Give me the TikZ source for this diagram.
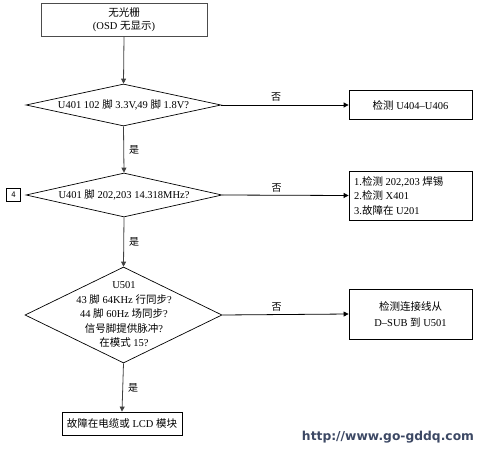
\documentclass[tikz,border=0pt]{standalone}
\usepackage{fontspec}
\setmainfont{Liberation Serif}
\newfontfamily\cjk{Noto Sans CJK SC}
\newfontfamily\wmfont{DejaVu Sans}
\usetikzlibrary{shapes.geometric,arrows.meta}
\newcommand{\zh}[1]{{\cjk #1}}
\definecolor{wmcol}{RGB}{60,72,100}
\begin{document}
\begin{tikzpicture}[x=1pt,y=-1pt,
  every node/.style={font=\fontsize{10.5}{13.5}\selectfont, inner sep=0pt},
  procbox/.style={draw=black, line width=0.8pt, minimum width=#1, align=center},
  decbox/.style={diamond, draw=black, line width=0.7pt, inner sep=0pt},
  arr/.style={draw=black!75, line width=0.8pt, -{Triangle[length=5pt,width=5pt]}},
  harr/.style={draw=black, line width=0.8pt, -{Triangle[length=5pt,width=5pt]}},
  lbl/.style={font=\fontsize{10}{11}\selectfont}]
\useasboundingbox (0,0) rectangle (482,452);
% top box
\node[procbox=166pt, draw=black!70, minimum height=33pt] (t) at (124,19.5) {\zh{无光栅}\\(OSD \zh{无显示})};
% diamond 1
\node[decbox, minimum width=195pt, minimum height=42pt] (d1) at (123.5,105) {};
\node (d1t) at (d1.center) {U401 102 \zh{脚} 3.3V,49 \zh{脚} 1.8V?};
\node[procbox=123pt, minimum height=29pt] (r1) at (410.5,105) {\zh{检测} U404--U406};
% diamond 2
\node[decbox, minimum width=196pt, minimum height=44pt] (d2) at (124,195) {};
\node (d2t) at (d2.center) {U401 \zh{脚} 202,203 14.318MHz?};
\node[draw=black, line width=0.6pt, minimum width=14pt, minimum height=13pt, font=\fontsize{8.5}{9}\sffamily] (four) at (13.5,195) {4};
\node[procbox=123pt, minimum height=49pt] (r2) at (410.5,195.5) {};
\node[anchor=west, align=left, font=\fontsize{10.5}{14.5}\selectfont] (r2t) at (354,195.5) {1.\zh{检测} 202,203 \zh{焊锡}\\2.\zh{检测} X401\\3.\zh{故障在} U201};
% diamond 3
\node[decbox, minimum width=197pt, minimum height=96pt] (d3) at (123.5,315) {};
\node[align=center, font=\fontsize{10.5}{14.5}\selectfont] (d3t) at (124,314.5) {U501\\43 \zh{脚} 64KHz \zh{行同步}?\\44 \zh{脚} 60Hz \zh{场同步}?\\\zh{信号脚提供脉冲}?\\\zh{在模式} 15?};
\node[procbox=123pt, minimum height=50pt, font=\fontsize{10.5}{16}\selectfont] (r3) at (410.5,314) {\zh{检测连接线从}\\D--SUB \zh{到} U501};
% bottom box
\node[procbox=120pt, minimum height=23pt] (bt) at (122,423.5) {\zh{故障在电缆或} LCD \zh{模块}};
% connectors
\draw[arr] (t.south) -- (d1.north);
\draw[arr] (d1.south) -- node[lbl, right=5pt, pos=0.5] (y1) {\zh{是}} (d2.north);
\draw[arr] (d2.south) -- node[lbl, right=5pt, pos=0.5] (y2) {\zh{是}} (d3.north);
\draw[arr] (d3.south) -- node[lbl, right=5pt, pos=0.5] (y3) {\zh{是}} (bt.north);
\draw[harr] (d1.east) -- node[lbl, above=3pt, pos=0.43] (n1) {\zh{否}} (r1.west);
\draw[harr] (d2.east) -- node[lbl, above=3pt, pos=0.43] (n2) {\zh{否}} (r2.west);
\draw[harr] (d3.east) -- node[lbl, above=3pt, pos=0.43] (n3) {\zh{否}} (r3.west);
% watermark
\node[font=\wmfont\bfseries\fontsize{12.3}{14}\selectfont, text=wmcol] (wm) at (388,437) {http://www.go-gddq.com};
\end{tikzpicture}
\end{document}
